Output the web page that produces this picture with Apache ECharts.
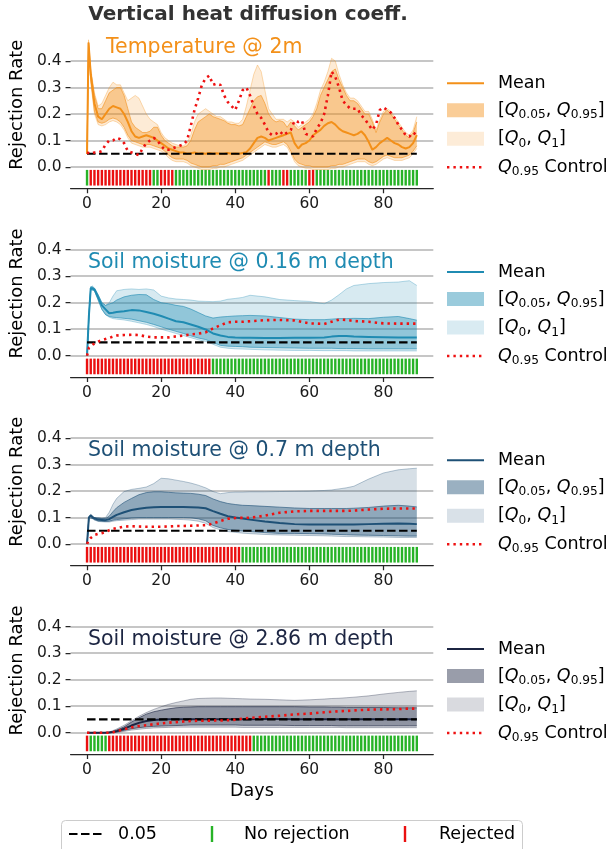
<!DOCTYPE html>
<html>
<head>
<meta charset="utf-8">
<script src="https://cdn.jsdelivr.net/npm/echarts@6.0.0/dist/echarts.min.js"></script>
<style>
  html, body { margin: 0; padding: 0; background: #fff; }
  #chart { width: 611px; height: 849px; }
</style>
</head>
<body>
<div id="chart"></div>
<script>
// ---- data ----
const xTicks = [0, 20, 40, 60, 80];
const yTicks = [0, 0.1, 0.2, 0.3, 0.4];
const threshold = 0.05;

// temperature panel: day 0, the spike at ~0.4, then daily
const daysTemp = [0, 0.4].concat(Array.from({ length: 89 }, (_, i) => i + 1));
const tempMean = [
  .05, .47, .35, .24, .19, .18, .2, .22, .23, .225, .22,
  .2, .17, .135, .115, .11, .115, .12, .115, .11, .1,
  .09, .08, .07, .065, .06, .055, .055, .05, .052, .055,
  .05, .052, .05, .053, .05, .052, .05, .05, .053, .05,
  .051, .05, .053, .056, .07, .09, .11, .115, .11, .1,
  .105, .11, .115, .12, .125, .13, .09, .07, .085, .09,
  .1, .12, .13, .14, .155, .165, .17, .16, .145, .135,
  .13, .125, .12, .125, .135, .12, .095, .065, .075, .09,
  .1, .11, .1, .09, .085, .075, .07, .075, .09, .12
];
const tempQ95 = [
  .05, .47, .36, .27, .22, .22, .25, .28, .29, .3, .3,
  .27, .22, .17, .15, .14, .13, .13, .135, .15, .15,
  .12, .1, .09, .08, .075, .075, .075, .08, .1, .14,
  .17, .18, .19, .2, .19, .185, .18, .175, .165, .16,
  .16, .155, .16, .19, .22, .25, .265, .27, .24, .2,
  .18, .17, .175, .17, .15, .17, .155, .14, .15, .16,
  .17, .19, .22, .27, .3, .33, .36, .37, .33, .3,
  .27, .25, .25, .24, .22, .2, .2, .17, .13, .17,
  .2, .215, .2, .18, .16, .14, .12, .11, .13, .17
];
const tempQ05 = [
  .05, .46, .33, .21, .17, .165, .17, .18, .185, .18, .17,
  .15, .12, .1, .095, .09, .085, .085, .085, .08, .075,
  .07, .06, .045, .035, .03, .03, .03, .025, .015, .01,
  .005, 0, 0, 0, .005, .005, .01, .01, .015, .02,
  .025, .03, .035, .045, .055, .065, .075, .085, .095, .09,
  .085, .085, .09, .095, .085, .06, .03, .015, .01, .005,
  .005, 0, 0, 0, 0, 0, .005, .005, .01, .01,
  .015, .02, .025, .03, .03, .03, .02, .015, .02, .03,
  .04, .045, .04, .035, .035, .035, .04, .045, .06, .08
];
const tempQ1 = [
  .05, .48, .37, .28, .23, .24, .27, .3, .32, .31, .31,
  .28, .25, .26, .27, .26, .23, .2, .18, .17, .16,
  .13, .11, .1, .09, .085, .08, .08, .09, .12, .17,
  .2, .21, .22, .21, .2, .19, .19, .18, .17, .17,
  .165, .165, .18, .23, .29, .35, .385, .36, .29, .22,
  .2, .18, .18, .18, .17, .18, .17, .15, .16, .17,
  .18, .2, .24, .29, .32, .36, .41, .4, .35, .31,
  .28, .26, .26, .25, .23, .21, .21, .18, .14, .18,
  .21, .22, .21, .19, .17, .15, .13, .12, .14, .19
];
const tempQ0 = [
  .05, .45, .32, .2, .16, .155, .16, .17, .175, .17, .16,
  .14, .11, .09, .085, .08, .075, .075, .075, .07, .065,
  .06, .05, .035, .025, .02, .02, .02, .015, .005, 0,
  -.005, -.01, -.01, -.01, -.005, -.005, 0, 0, .005, .01,
  .015, .02, .025, .035, .045, .055, .065, .075, .085, .08,
  .075, .075, .08, .085, .075, .05, .02, .005, 0, -.005,
  -.005, -.01, -.01, -.01, -.01, -.01, -.005, -.005, 0, 0,
  .005, .01, .015, .02, .02, .02, .01, .005, .01, .02,
  .03, .035, .03, .025, .025, .025, .03, .035, .05, .07
];
const tempControl = [
  .055, .052, .05, .055, .055, .06, .085, .1, .1, .11, .105,
  .09, .06, .055, .05, .045, .07, .09, .1, .11, .1,
  .08, .065, .065, .07, .075, .08, .085, .1, .155, .215,
  .26, .31, .335, .345, .31, .315, .31, .27, .245, .23,
  .215, .25, .29, .3, .27, .23, .2, .185, .16, .13,
  .12, .125, .135, .12, .13, .14, .175, .17, .175, .125,
  .12, .115, .145, .165, .2, .27, .36, .34, .3, .25,
  .235, .22, .22, .22, .195, .18, .16, .14, .16, .215,
  .225, .215, .205, .185, .16, .14, .12, .115, .13, .12
];

// soil moisture panels share a coarser day grid
const daysSoil = [0, .5, 1, 1.5, 2, 3, 4, 5, 6, 7, 8, 10, 12, 14, 16, 18, 20, 22, 24, 26, 28, 30,
  32, 34, 36, 38, 40, 42, 44, 48, 52, 56, 60, 64, 66, 68, 70, 72, 76, 80, 84, 87, 89];

const sm016Mean = [0, .15, .255, .26, .25, .22, .19, .175, .16, .162, .165, .168, .172, .171, .165, .158, .15,
  .14, .13, .126, .118, .109, .099, .084, .076, .071, .069, .068, .068, .067, .067, .068, .068, .069,
  .072, .074, .074, .072, .071, .07, .069, .069, .069];
const sm016Q95 = [0, .15, .26, .265, .255, .23, .2, .19, .195, .2, .21, .222, .228, .231, .23, .212, .2,
  .196, .19, .186, .176, .163, .15, .142, .146, .148, .15, .151, .152, .15, .144, .138, .136, .136,
  .138, .14, .14, .141, .14, .145, .148, .14, .134];
const sm016Q05 = [0, .15, .25, .255, .245, .21, .175, .155, .148, .145, .144, .141, .138, .132, .126, .118,
  .109, .1, .092, .084, .075, .067, .061, .05, .039, .036, .035, .034, .032, .031, .03, .029, .028,
  .028, .028, .027, .027, .027, .026, .026, .026, .026, .026];
const sm016Q1 = [0, .15, .26, .265, .255, .23, .2, .19, .2, .225, .245, .25, .252, .25, .252, .248, .225,
  .218, .214, .212, .21, .206, .205, .204, .206, .213, .216, .22, .228, .222, .212, .208, .205, .196,
  .21, .23, .252, .265, .272, .276, .278, .283, .265];
const sm016Q0 = [0, .15, .25, .255, .245, .21, .175, .155, .145, .14, .138, .135, .13, .124, .118, .11, .1,
  .092, .084, .076, .068, .06, .054, .043, .032, .028, .026, .025, .024, .022, .021, .02, .02, .019,
  .019, .019, .019, .018, .018, .018, .018, .018, .018];
const sm016Control = [0, .03, .037, .042, .046, .053, .059, .063, .067, .072, .076, .078, .079, .078, .072,
  .069, .069, .069, .073, .076, .08, .083, .088, .103, .115, .126, .128, .128, .13, .134, .135, .133,
  .122, .12, .128, .136, .135, .131, .128, .122, .121, .121, .121];

const sm07Mean = [0, .1, .108, .1, .094, .092, .091, .09, .094, .102, .11, .12, .128, .133, .137, .139, .14,
  .14, .14, .14, .139, .138, .135, .124, .114, .105, .1, .096, .092, .085, .079, .075, .074, .074,
  .074, .074, .074, .074, .075, .076, .077, .076, .075];
const sm07Q95 = [0, .1, .11, .103, .098, .097, .096, .096, .105, .122, .137, .157, .172, .186, .194, .197,
  .197, .195, .193, .192, .191, .188, .183, .17, .16, .153, .149, .146, .145, .142, .139, .136, .134,
  .134, .134, .134, .134, .135, .138, .143, .146, .143, .14];
const sm07Q05 = [0, .1, .105, .097, .09, .087, .086, .085, .086, .09, .092, .095, .098, .1, .1, .1, .1, .1,
  .1, .1, .099, .095, .088, .07, .061, .055, .052, .049, .047, .043, .04, .04, .039, .038, .037, .036,
  .035, .034, .033, .032, .031, .03, .03];
const sm07Q1 = [0, .1, .112, .105, .1, .1, .098, .1, .12, .15, .172, .198, .206, .21, .215, .228, .248,
  .246, .241, .236, .23, .222, .212, .198, .19, .194, .196, .196, .197, .197, .198, .199, .2, .202,
  .204, .208, .212, .218, .245, .268, .28, .284, .286];
const sm07Q0 = [0, .1, .104, .095, .088, .085, .084, .083, .083, .086, .088, .09, .092, .094, .094, .094,
  .094, .094, .093, .092, .09, .086, .078, .062, .053, .047, .044, .041, .039, .036, .034, .033, .032,
  .031, .03, .029, .028, .028, .027, .026, .025, .025, .025];
const sm07Control = [0, .015, .023, .029, .034, .038, .041, .045, .052, .057, .06, .066, .067, .066, .065,
  .065, .065, .066, .068, .068, .069, .07, .071, .077, .087, .095, .098, .099, .099, .107, .118, .123,
  .125, .125, .125, .125, .125, .126, .13, .133, .134, .134, .134];

const sm286Mean = [0, 0, 0, 0, 0, 0, 0, 0, .001, .003, .006, .015, .027, .037, .044, .048, .05, .051, .051,
  .051, .051, .051, .051, .051, .051, .051, .051, .051, .051, .052, .052, .051, .051, .051, .051, .051,
  .051, .051, .051, .051, .051, .051, .051];
const sm286Q95 = [0, 0, 0, 0, 0, 0, 0, .001, .002, .005, .01, .022, .04, .056, .07, .079, .085, .09, .094,
  .096, .097, .098, .098, .098, .098, .098, .098, .098, .098, .098, .098, .098, .097, .097, .096, .096,
  .095, .095, .095, .095, .094, .094, .094];
const sm286Q05 = [0, 0, 0, 0, 0, 0, 0, 0, 0, .001, .003, .009, .015, .019, .022, .024, .025, .026, .027,
  .028, .029, .029, .029, .029, .029, .029, .029, .028, .028, .028, .028, .027, .027, .027, .027, .026,
  .026, .026, .026, .026, .026, .026, .026];
const sm286Q1 = [0, 0, 0, 0, 0, 0, 0, .001, .003, .008, .014, .028, .045, .062, .076, .088, .098, .107, .114,
  .12, .126, .129, .13, .131, .131, .13, .129, .128, .127, .126, .124, .122, .124, .127, .129, .13,
  .132, .134, .139, .146, .152, .156, .158];
const sm286Q0 = [0, 0, 0, 0, 0, 0, 0, 0, 0, 0, .001, .005, .01, .013, .016, .018, .019, .02, .021, .021,
  .021, .021, .021, .021, .021, .021, .021, .02, .02, .02, .02, .02, .02, .02, .02, .02, .019, .019,
  .019, .019, .019, .019, .019];
const sm286Control = [0, 0, 0, 0, 0, 0, 0, 0, 0, .002, .005, .013, .02, .025, .028, .032, .035, .038, .04,
  .042, .044, .045, .045, .046, .046, .047, .049, .053, .056, .06, .064, .069, .072, .077, .079, .081,
  .082, .084, .087, .088, .089, .091, .091];

// daily test outcome, 1 = rejected (days 0..89)
const tempRejected = [
  0, 1, 1, 1, 1, 1, 1, 1, 1, 1,  1, 1, 1, 1, 1, 1, 1, 1, 0, 0,
  1, 1, 1, 1, 0, 0, 0, 0, 0, 0,  0, 0, 0, 0, 0, 0, 0, 0, 0, 0,
  0, 0, 0, 0, 0, 0, 0, 0, 0, 1,  0, 0, 0, 1, 1, 0, 0, 0, 0, 0,
  1, 1, 0, 0, 0, 0, 0, 0, 0, 0,  0, 0, 0, 0, 0, 0, 0, 0, 0, 0,
  0, 0, 0, 0, 0, 0, 0, 0, 0, 0
];
const sm016Rejected = [
  1, 1, 1, 1, 1, 1, 1, 1, 1, 1,  1, 1, 1, 1, 1, 1, 1, 1, 1, 1,
  1, 1, 1, 1, 1, 1, 1, 1, 1, 1,  1, 1, 1, 1, 0, 0, 0, 0, 0, 0,
  0, 0, 0, 0, 0, 0, 0, 0, 0, 0,  0, 0, 0, 0, 0, 0, 0, 0, 0, 0,
  0, 0, 0, 0, 0, 0, 0, 0, 0, 0,  0, 0, 0, 0, 0, 0, 0, 0, 0, 0,
  0, 0, 0, 0, 0, 0, 0, 0, 0, 0
];
const sm07Rejected = [
  1, 1, 1, 1, 1, 1, 1, 1, 1, 1,  1, 1, 1, 1, 1, 1, 1, 1, 1, 1,
  1, 1, 1, 1, 1, 1, 1, 1, 1, 1,  1, 1, 1, 1, 1, 1, 1, 1, 1, 1,
  1, 1, 0, 0, 0, 0, 0, 0, 0, 0,  0, 0, 0, 0, 0, 0, 0, 0, 0, 0,
  0, 0, 0, 0, 0, 0, 0, 0, 0, 0,  0, 0, 0, 0, 0, 0, 0, 0, 0, 0,
  0, 0, 0, 0, 0, 0, 0, 0, 0, 0
];
const sm286Rejected = [
  1, 0, 0, 0, 0, 0, 1, 1, 1, 1,  1, 1, 1, 1, 1, 1, 1, 1, 1, 1,
  1, 1, 1, 1, 1, 1, 1, 1, 1, 1,  1, 1, 1, 1, 1, 1, 1, 1, 1, 1,
  1, 1, 1, 1, 1, 0, 0, 0, 0, 0,  0, 0, 0, 0, 0, 0, 0, 0, 0, 0,
  0, 0, 0, 0, 0, 0, 0, 0, 0, 0,  0, 0, 0, 0, 0, 0, 0, 0, 0, 0,
  0, 0, 0, 0, 0, 0, 0, 0, 0, 0
];

// ---- layout / style ----
const FONT = 'DejaVu Sans';
const GREEN = '#27b327';
const RED = '#ea1010';
const CTRL_RED = '#ee1111';
const ZERO_Y = [167, 355.7, 544, 732.7];   // pixel row of rate 0 in each panel
const UNIT = 265;                          // pixels per 1.0 of rejection rate
const Y_MIN = -0.08, Y_MAX = 0.55;
const X_MIN = -4.45, X_MAX = 93.45;
const BAR_TOP = -0.011, BAR_BOTTOM = -0.07, BAR_W = 2.4;

const panels = [
  { title: 'Temperature @ 2m', color: '#f39019', titleX: 106, titleDy: -119,
    days: daysTemp, mean: tempMean, q05: tempQ05, q95: tempQ95, q0: tempQ0, q1: tempQ1,
    control: tempControl, rejected: tempRejected },
  { title: 'Soil moisture @ 0.16 m depth', color: '#1f8bb2', titleX: 88, titleDy: -93.3,
    days: daysSoil, mean: sm016Mean, q05: sm016Q05, q95: sm016Q95, q0: sm016Q0, q1: sm016Q1,
    control: sm016Control, rejected: sm016Rejected },
  { title: 'Soil moisture @ 0.7 m depth', color: '#1e5076', titleX: 88, titleDy: -93.3,
    days: daysSoil, mean: sm07Mean, q05: sm07Q05, q95: sm07Q95, q0: sm07Q0, q1: sm07Q1,
    control: sm07Control, rejected: sm07Rejected },
  { title: 'Soil moisture @ 2.86 m depth', color: '#1c2542', titleX: 88, titleDy: -93.3,
    days: daysSoil, mean: sm286Mean, q05: sm286Q05, q95: sm286Q95, q0: sm286Q0, q1: sm286Q1,
    control: sm286Control, rejected: sm286Rejected }
];

function rgba(hex, a) {
  const n = parseInt(hex.slice(1), 16);
  return 'rgba(' + (n >> 16) + ',' + ((n >> 8) & 255) + ',' + (n & 255) + ',' + a + ')';
}
const pairs = (xs, ys) => xs.map((x, i) => [x, ys[i]]);
const triples = (xs, lo, hi) => xs.map((x, i) => [x, lo[i], hi[i]]);

// one filled polygon between lo (dim 1) and hi (dim 2), drawn once per series
function bandRenderer(color) {
  return function (params, api) {
    if (params.dataIndexInside !== 0) return { type: 'group', children: [] };
    const n = params.dataInsideLength;
    const upper = [], lower = [];
    for (let k = 0; k < n; k++) {
      upper.push(api.coord([api.value(0, k), api.value(2, k)]));
      lower.push(api.coord([api.value(0, k), api.value(1, k)]));
    }
    return { type: 'polygon', shape: { points: upper.concat(lower.reverse()) }, style: { fill: color } };
  };
}

function barRenderer(color) {
  return function (params, api) {
    const top = api.coord([api.value(0), BAR_TOP]);
    const bottom = api.coord([api.value(0), BAR_BOTTOM]);
    return {
      type: 'rect',
      shape: { x: top[0] - BAR_W / 2, y: top[1], width: BAR_W, height: bottom[1] - top[1] },
      style: { fill: color }
    };
  };
}

const grids = [], xAxes = [], yAxes = [], series = [], graphics = [];
const textBase = { fontFamily: FONT, fill: '#000' };
const mathRich = {
  q: { fontFamily: FONT, fontSize: 17.5, fontStyle: 'italic', lineHeight: 22, fill: '#000' },
  n: { fontFamily: FONT, fontSize: 17.5, lineHeight: 22, fill: '#000' },
  s: { fontFamily: FONT, fontSize: 12.2, lineHeight: 12, verticalAlign: 'bottom', fill: '#000' }
};

panels.forEach((p, i) => {
  const z0 = ZERO_Y[i];
  grids.push({ left: 69, width: 364.3, top: z0 - Y_MAX * UNIT, height: (Y_MAX - Y_MIN) * UNIT });
  xAxes.push({
    type: 'value', gridIndex: i, min: X_MIN, max: X_MAX,
    axisLine: { onZero: false, lineStyle: { color: '#262626', width: 1.25 } },
    axisTick: { customValues: xTicks, length: 5, lineStyle: { color: '#262626', width: 1.25 } },
    axisLabel: { customValues: xTicks, fontFamily: FONT, fontSize: 15.5, color: '#1a1a1a', margin: 8 },
    splitLine: { show: false },
    name: i === 3 ? 'Days' : '', nameLocation: 'middle', nameGap: 29,
    nameTextStyle: { fontFamily: FONT, fontSize: 17.5, color: '#000' }
  });
  yAxes.push({
    type: 'value', gridIndex: i, min: Y_MIN, max: Y_MAX,
    axisLine: { show: false, onZero: false },
    axisTick: { show: true, customValues: yTicks, length: 5, lineStyle: { color: '#262626', width: 1.25 } },
    axisLabel: { customValues: yTicks, fontFamily: FONT, fontSize: 15.5, color: '#1a1a1a', margin: 9,
      formatter: v => v.toFixed(1) },
    splitLine: { show: true, lineStyle: { color: '#b3b3b3', width: 1.6 } },
    name: 'Rejection Rate', nameLocation: 'middle', nameGap: 37,
    nameTextStyle: { fontFamily: FONT, fontSize: 18, color: '#000' }
  });

  const c = p.color;
  const axes = { xAxisIndex: i, yAxisIndex: i, silent: true };
  const line = Object.assign({ type: 'line', symbol: 'none' }, axes);

  // quantile bands
  series.push(Object.assign({ type: 'custom', renderItem: bandRenderer(rgba(c, 0.18)),
    encode: { x: 0, y: [1, 2] }, data: triples(p.days, p.q0, p.q1), clip: true, z: 1 }, axes));
  series.push(Object.assign({ type: 'custom', renderItem: bandRenderer(rgba(c, 0.38)),
    encode: { x: 0, y: [1, 2] }, data: triples(p.days, p.q05, p.q95), clip: true, z: 1 }, axes));
  [[p.q0, 0.4, 0.8], [p.q1, 0.4, 0.8], [p.q05, 0.6, 1], [p.q95, 0.6, 1]].forEach(([ys, a, w]) => {
    series.push(Object.assign({}, line, { data: pairs(p.days, ys),
      lineStyle: { color: rgba(c, a), width: w }, z: 1 }));
  });

  series.push(Object.assign({}, line, { name: 'Mean', data: pairs(p.days, p.mean),
    lineStyle: { color: c, width: 2 }, z: 3 }));
  series.push(Object.assign({}, line, { name: '0.05', data: [[0, threshold], [89, threshold]],
    lineStyle: { color: '#000', width: 2.2, type: [8.5, 3.5] }, z: 4 }));
  series.push(Object.assign({}, line, { name: 'Control', data: pairs(p.days, p.control),
    lineStyle: { color: CTRL_RED, width: 2.6, type: [2.4, 4], cap: 'butt' }, z: 5 }));

  const ok = [], rej = [];
  p.rejected.forEach((r, d) => (r ? rej : ok).push([d, r]));
  series.push(Object.assign({ type: 'custom', name: 'No rejection', renderItem: barRenderer(GREEN),
    encode: { x: 0, y: 1 }, data: ok, z: 2 }, axes));
  series.push(Object.assign({ type: 'custom', name: 'Rejected', renderItem: barRenderer(RED),
    encode: { x: 0, y: 1 }, data: rej, z: 2 }, axes));

  // panel title
  graphics.push({ type: 'text', x: p.titleX, y: z0 + p.titleDy,
    style: { text: p.title, fontFamily: FONT, fontSize: 20.5, fill: c, verticalAlign: 'middle' } });

  // panel legend on the right
  const lx = 447, lw = 37, tx = 498;
  const rows = [z0 - 83.7, z0 - 56.7, z0 - 28.3, z0 + 0.3];
  graphics.push({ type: 'line', shape: { x1: lx, y1: rows[0], x2: lx + lw, y2: rows[0] },
    style: { stroke: c, lineWidth: 2 } });
  graphics.push({ type: 'rect', shape: { x: lx, y: rows[1] - 7, width: lw, height: 14 },
    style: { fill: rgba(c, 0.45) } });
  graphics.push({ type: 'rect', shape: { x: lx, y: rows[2] - 7, width: lw, height: 14 },
    style: { fill: rgba(c, 0.17) } });
  graphics.push({ type: 'line', shape: { x1: lx, y1: rows[3], x2: lx + lw, y2: rows[3] },
    style: { stroke: CTRL_RED, lineWidth: 2.6, lineDash: [2.4, 4] } });
  graphics.push({ type: 'text', x: tx, y: rows[0],
    style: Object.assign({ text: 'Mean', fontSize: 17.5, verticalAlign: 'middle' }, textBase) });
  graphics.push({ type: 'text', x: tx, y: rows[1],
    style: { text: '{n|[}{q|Q}{s|0.05}{n|, }{q|Q}{s|0.95}{n|]}', rich: mathRich, verticalAlign: 'middle' } });
  graphics.push({ type: 'text', x: tx, y: rows[2],
    style: { text: '{n|[}{q|Q}{s|0}{n|, }{q|Q}{s|1}{n|]}', rich: mathRich, verticalAlign: 'middle' } });
  graphics.push({ type: 'text', x: tx, y: rows[3],
    style: { text: '{q|Q}{s|0.95}{n| Control}', rich: mathRich, verticalAlign: 'middle' } });
});

// suptitle
graphics.push({ type: 'text', x: 248, y: 15,
  style: { text: 'Vertical heat diffusion coeff.', fontFamily: FONT, fontSize: 20, fontWeight: 'bold',
    fill: '#333', align: 'center', verticalAlign: 'middle' } });

// figure legend at the bottom
const ly = 834;
graphics.push({ type: 'rect', shape: { x: 61.5, y: 820.5, width: 461, height: 40, r: 4 },
  style: { fill: '#fff', stroke: '#cccccc', lineWidth: 1 } });
graphics.push({ type: 'line', shape: { x1: 69, y1: ly, x2: 104, y2: ly },
  style: { stroke: '#000', lineWidth: 2.2, lineDash: [8.5, 3.5] } });
graphics.push({ type: 'text', x: 118, y: ly,
  style: Object.assign({ text: '0.05', fontSize: 17.5, verticalAlign: 'middle' }, textBase) });
graphics.push({ type: 'line', shape: { x1: 212, y1: ly - 8, x2: 212, y2: ly + 8 },
  style: { stroke: GREEN, lineWidth: 2.4 } });
graphics.push({ type: 'text', x: 244, y: ly,
  style: Object.assign({ text: 'No rejection', fontSize: 17.5, verticalAlign: 'middle' }, textBase) });
graphics.push({ type: 'line', shape: { x1: 405, y1: ly - 8, x2: 405, y2: ly + 8 },
  style: { stroke: RED, lineWidth: 2.4 } });
graphics.push({ type: 'text', x: 439, y: ly,
  style: Object.assign({ text: 'Rejected', fontSize: 17.5, verticalAlign: 'middle' }, textBase) });

const chart = echarts.init(document.getElementById('chart'), null, { renderer: 'canvas' });
chart.setOption({
  animation: false,
  backgroundColor: '#fff',
  grid: grids,
  xAxis: xAxes,
  yAxis: yAxes,
  series: series,
  graphic: graphics
});
</script>
</body>
</html>
